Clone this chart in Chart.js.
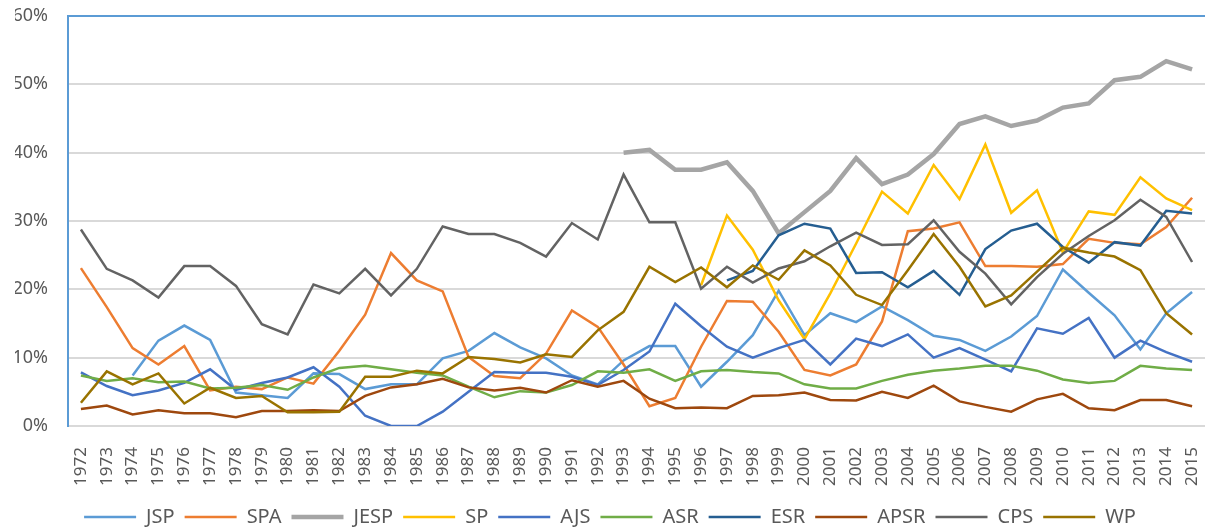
<!DOCTYPE html>
<html>
<head>
<meta charset="utf-8">
<script src="https://cdn.jsdelivr.net/npm/chart.js@4.4.1/dist/chart.umd.min.js"></script>
<style>
    body { margin: 0; background: #fff; }
    #wrap { width: 1205px; height: 530px; }
</style>
</head>
<body>
<div id="wrap"><canvas id="myChart"></canvas></div>
<script>
// Years on the category axis
const years = ['1972', '1973', '1974', '1975', '1976', '1977', '1978', '1979', '1980', '1981',
    '1982', '1983', '1984', '1985', '1986', '1987', '1988', '1989', '1990', '1991',
    '1992', '1993', '1994', '1995', '1996', '1997', '1998', '1999', '2000', '2001',
    '2002', '2003', '2004', '2005', '2006', '2007', '2008', '2009', '2010', '2011',
    '2012', '2013', '2014', '2015'];

// Shares in percent, one value per year (null = no data)
const jsp = [null, null, 7.4, 12.5, 14.7, 12.6, 4.9, 4.5, 4.1, 7.7,
    7.6, 5.4, 6.1, 6.1, 9.9, 11.0, 13.6, 11.5, 9.9, 7.4,
    6.1, 9.6, 11.7, 11.7, 5.75, 9.4, 13.3, 19.8, 13.3, 16.5,
    15.2, 17.5, 15.5, 13.2, 12.6, 11.0, 13.1, 16.1, 22.9, 19.5,
    16.2, 11.2, 16.5, 19.6];
const spa = [23.1, 17.4, 11.4, 9.0, 11.7, 5.2, 5.75, 5.4, 7.1, 6.2,
    11.0, 16.3, 25.3, 21.3, 19.7, 10.1, 7.3, 7.0, 10.6, 16.9,
    14.5, 9.0, 2.9, 4.1, 11.6, 18.3, 18.2, 13.8, 8.2, 7.4,
    9.0, 15.3, 28.5, 28.9, 29.8, 23.4, 23.4, 23.3, 23.7, 27.4,
    26.8, 26.6, 29.1, 33.4];
const jesp = [null, null, null, null, null, null, null, null, null, null,
    null, null, null, null, null, null, null, null, null, null,
    null, 40.0, 40.4, 37.5, 37.5, 38.6, 34.4, 28.2, 31.3, 34.4,
    39.2, 35.4, 36.8, 39.8, 44.2, 45.3, 43.9, 44.7, 46.6, 47.2,
    50.6, 51.1, 53.4, 52.2];
const sp = [null, null, null, null, null, null, null, null, null, null,
    null, null, null, null, null, null, null, null, null, null,
    null, null, null, null, 20.6, 30.8, 25.8, 18.4, 12.7, 19.4,
    26.7, 34.3, 31.1, 38.2, 33.2, 41.2, 31.2, 34.5, 25.4, 31.4,
    30.9, 36.4, 33.3, 31.6];
const ajs = [7.85, 5.85, 4.5, 5.2, 6.3, 8.3, 5.3, 6.3, 7.1, 8.6,
    5.75, 1.5, 0, 0, 2.1, 5.0, 7.9, 7.8, 7.8, 7.2,
    6.0, 8.2, 10.9, 17.9, 14.6, 11.6, 10.0, 11.4, 12.6, 9.0,
    12.8, 11.7, 13.4, 10.0, 11.4, 9.7, 8.0, 14.3, 13.5, 15.8,
    10.0, 12.5, 10.8, 9.4];
const asr = [7.4, 6.6, 7.0, 6.4, 6.5, 5.5, 5.6, 6.0, 5.3, 7.1,
    8.5, 8.8, 8.3, 7.8, 7.4, 5.75, 4.2, 5.1, 4.9, 6.0,
    8.0, 7.8, 8.3, 6.6, 8.0, 8.2, 7.9, 7.7, 6.1, 5.5,
    5.5, 6.6, 7.5, 8.1, 8.4, 8.8, 8.8, 8.1, 6.8, 6.3,
    6.6, 8.8, 8.4, 8.2];
const esr = [null, null, null, null, null, null, null, null, null, null,
    null, null, null, null, null, null, null, null, null, null,
    null, null, null, null, null, 21.3, 22.7, 27.9, 29.6, 28.9,
    22.4, 22.5, 20.3, 22.7, 19.2, 25.9, 28.6, 29.6, 26.2, 23.9,
    26.9, 26.4, 31.5, 31.1];
const apsr = [2.5, 3.0, 1.7, 2.3, 1.85, 1.85, 1.3, 2.2, 2.2, 2.3,
    2.2, 4.4, 5.65, 6.1, 6.9, 5.65, 5.2, 5.6, 4.9, 6.7,
    5.75, 6.6, 4.0, 2.6, 2.7, 2.6, 4.4, 4.5, 4.9, 3.8,
    3.75, 5.0, 4.1, 5.9, 3.6, 2.8, 2.1, 3.9, 4.7, 2.6,
    2.3, 3.8, 3.8, 2.9];
const cps = [28.75, 23.0, 21.3, 18.8, 23.4, 23.4, 20.5, 14.9, 13.4, 20.7,
    19.4, 23.0, 19.1, 23.0, 29.2, 28.1, 28.1, 26.8, 24.8, 29.7,
    27.3, 36.8, 29.8, 29.8, 20.1, 23.3, 21.0, 23.05, 24.1, 26.3,
    28.3, 26.5, 26.6, 30.1, 25.5, 22.3, 17.8, 21.8, 25.2, 27.8,
    30.1, 33.1, 30.6, 24.0];
const wp = [3.4, 8.0, 6.1, 7.7, 3.3, 5.6, 4.1, 4.4, 2.0, 2.0,
    2.1, 7.2, 7.2, 8.1, 7.7, 10.1, 9.8, 9.3, 10.5, 10.1,
    14.0, 16.7, 23.3, 21.05, 23.2, 20.3, 23.5, 21.4, 25.7, 23.5,
    19.2, 17.7, 22.8, 28.1, 23.3, 17.5, 19.1, 22.6, 26.1, 25.4,
    24.8, 22.8, 16.5, 13.4];

const seriesNames = ['JSP', 'SPA', 'JESP', 'SP', 'AJS', 'ASR', 'ESR', 'APSR', 'CPS', 'WP'];
const seriesValues = [jsp, spa, jesp, sp, ajs, asr, esr, apsr, cps, wp];
const seriesColors = ['#5B9BD5', '#ED7D31', '#A5A5A5', '#FFC000', '#4472C4',
    '#70AD47', '#255E91', '#9E480E', '#636363', '#997300'];

const FONT = "'Noto Sans', 'Open Sans', sans-serif";

const datasets = seriesNames.map((name, i) => ({
    label: name,
    data: seriesValues[i],
    borderColor: seriesColors[i],
    backgroundColor: seriesColors[i],
    borderWidth: name === 'JESP' ? 4.5 : 2.5,
    pointRadius: 0,
    tension: 0,
    order: 10 - i   // later series painted on top, like Excel
}));

// fixed legend height so the legend row sits where the original has it
const legendHeightFix = {
    id: 'legendHeightFix',
    beforeLayout(chart) {
        const lg = chart.legend;
        if (lg && !lg._fixed) {
            const fit = lg.fit;
            lg.fit = function () { fit.call(this); this.height = 33; };
            lg._fixed = true;
        }
    }
};

const config = {
    type: 'line',
    data: { labels: years, datasets: datasets },
    options: {
        responsive: true,
        maintainAspectRatio: false,
        animation: false,
        layout: { padding: { left: 15, right: 0, top: 16, bottom: 0 } },
        scales: {
            x: {
                offset: true,
                grid: { display: false },
                border: { color: '#D9D9D9', width: 2 },
                afterFit: scale => {
                    scale.height = 71;
                    scale.paddingLeft = 0;
                    scale.paddingRight = 0;
                },
                ticks: {
                    autoSkip: false,
                    maxRotation: 90,
                    minRotation: 90,
                    padding: 13,
                    color: '#595959',
                    font: { family: FONT, size: 17 }
                }
            },
            y: {
                min: 0,
                max: 60,
                border: { color: '#5B9BD5', width: 2 },
                afterFit: scale => {
                    scale.width = 53;
                    scale.paddingTop = 0;
                    scale.paddingBottom = 0;
                },
                grid: {
                    drawTicks: false,
                    lineWidth: 2,
                    color: ctx => ctx.tick && ctx.tick.value === 60 ? '#5B9BD5' : '#D9D9D9'
                },
                ticks: {
                    stepSize: 10,
                    padding: 20,
                    color: '#595959',
                    font: { family: FONT, size: 18 },
                    callback: v => v + '%'
                }
            }
        },
        plugins: {
            tooltip: { enabled: false },
            legend: {
                position: 'bottom',
                labels: {
                    usePointStyle: true,
                    pointStyle: 'line',
                    pointStyleWidth: 52,
                    padding: 10,
                    color: '#595959',
                    font: { family: FONT, size: 20 },
                    sort: (a, b) => a.datasetIndex - b.datasetIndex
                }
            }
        }
    },
    plugins: [legendHeightFix]
};

var myChart = new Chart(document.getElementById('myChart'), config);
</script>
</body>
</html>
